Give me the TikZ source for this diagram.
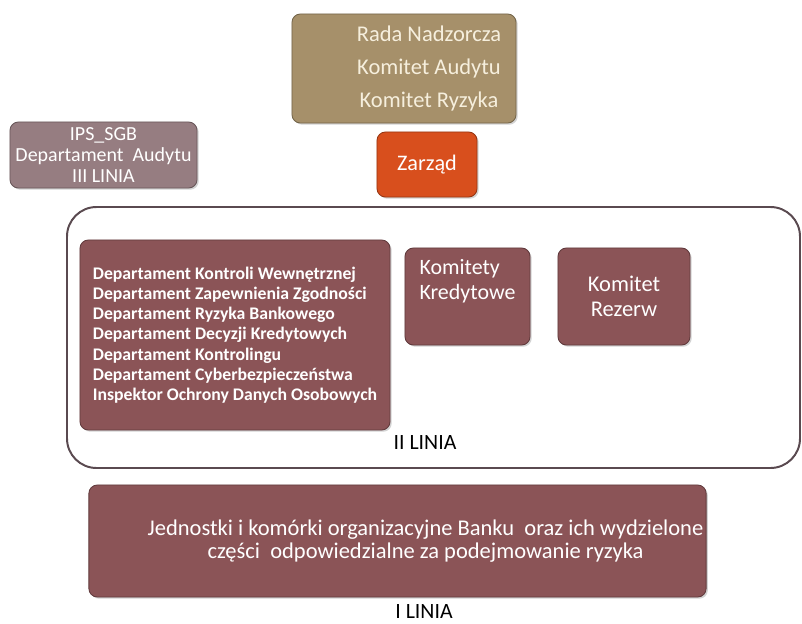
\documentclass[tikz,border=0pt]{standalone}
\usepackage{fontspec}
\setmainfont{Carlito}
\usetikzlibrary{positioning,shadows}
\definecolor{radacol}{HTML}{A6906A}
\definecolor{radatext}{HTML}{F6EFDD}
\definecolor{zarzadcol}{HTML}{D84F1D}
\definecolor{ipscol}{HTML}{967D81}
\definecolor{liniacol}{HTML}{8B5457}
\definecolor{framecol}{HTML}{5A4A50}
\tikzset{
    orgbox/.style={draw=#1!70!black, line width=0.6pt, fill=#1, rounded corners=6pt, text=white,
        align=center, inner sep=2pt, drop shadow={opacity=0.35, shadow xshift=1.2pt, shadow yshift=-1.2pt}},
    linebox/.style={draw=framecol, line width=1.4pt, rounded corners=21pt},
    linelabel/.style={font=\fontsize{15.5}{17}\selectfont, text=black, inner sep=1pt}
}
\begin{document}
\begin{tikzpicture}[x=0.025cm, y=-0.025cm]
    \useasboundingbox (0,0) rectangle (802,624);
    % gorny poziom
    \node[orgbox=radacol, text=radatext, minimum width=5.6cm, minimum height=2.725cm,
        font=\fontsize{16}{23.5}\selectfont] (rada) at (404,68.5)
        {\hspace*{1.25cm}Rada Nadzorcza\\\hspace*{1.25cm}Komitet Audytu\\\hspace*{1.25cm}Komitet Ryzyka};
    \node[orgbox=zarzadcol, minimum width=2.5cm, minimum height=1.625cm,
        font=\fontsize{15.8}{18}\selectfont] (zarzad) at (427,164.5) {Zarząd};
    \node[orgbox=ipscol, minimum width=4.675cm, minimum height=1.65cm,
        font=\fontsize{14.2}{14.6}\selectfont] (ips) at (103.5,155)
        {IPS\_SGB\\Departament~ Audytu\\III LINIA};
    % II linia
    \draw[linebox] (67,207) rectangle (800,468);
    \node[orgbox=liniacol, minimum width=7.75cm, minimum height=4.75cm, align=left,
        font=\fontsize{12.6}{14.4}\selectfont\bfseries] (kontrola) at (235,335)
        {Departament Kontroli Wewnętrznej\\Departament Zapewnienia Zgodności\\Departament Ryzyka Bankowego\\Departament Decyzji Kredytowych\\Departament Kontrolingu\\Departament Cyberbezpieczeństwa\\Inspektor Ochrony Danych Osobowych};
    \node[orgbox=liniacol, minimum width=3.125cm, minimum height=2.425cm, align=left,
        font=\fontsize{15.6}{18}\selectfont] (kredyt) at (467.5,296.5)
        {Komitety\\Kredytowe\\[6pt]};
    \node[orgbox=liniacol, minimum width=3.3cm, minimum height=2.425cm,
        font=\fontsize{16}{18}\selectfont] (rezerw) at (624,296.5)
        {Komitet\\Rezerw};
    \node[linelabel] (linia2) at (425,443) {II LINIA};
    % I linia
    \node[orgbox=liniacol, minimum width=15.375cm, minimum height=2.8cm,
        font=\fontsize{16}{16.5}\selectfont] (jednostki) at (397.5,541)
        {\hspace*{1.4cm}Jednostki i komórki organizacyjne Banku~ oraz ich wydzielone\\\hspace*{1.4cm}części~ odpowiedzialne za podejmowanie ryzyka};
    \node[linelabel] (linia1) at (424,612) {I LINIA};
\end{tikzpicture}
\end{document}
